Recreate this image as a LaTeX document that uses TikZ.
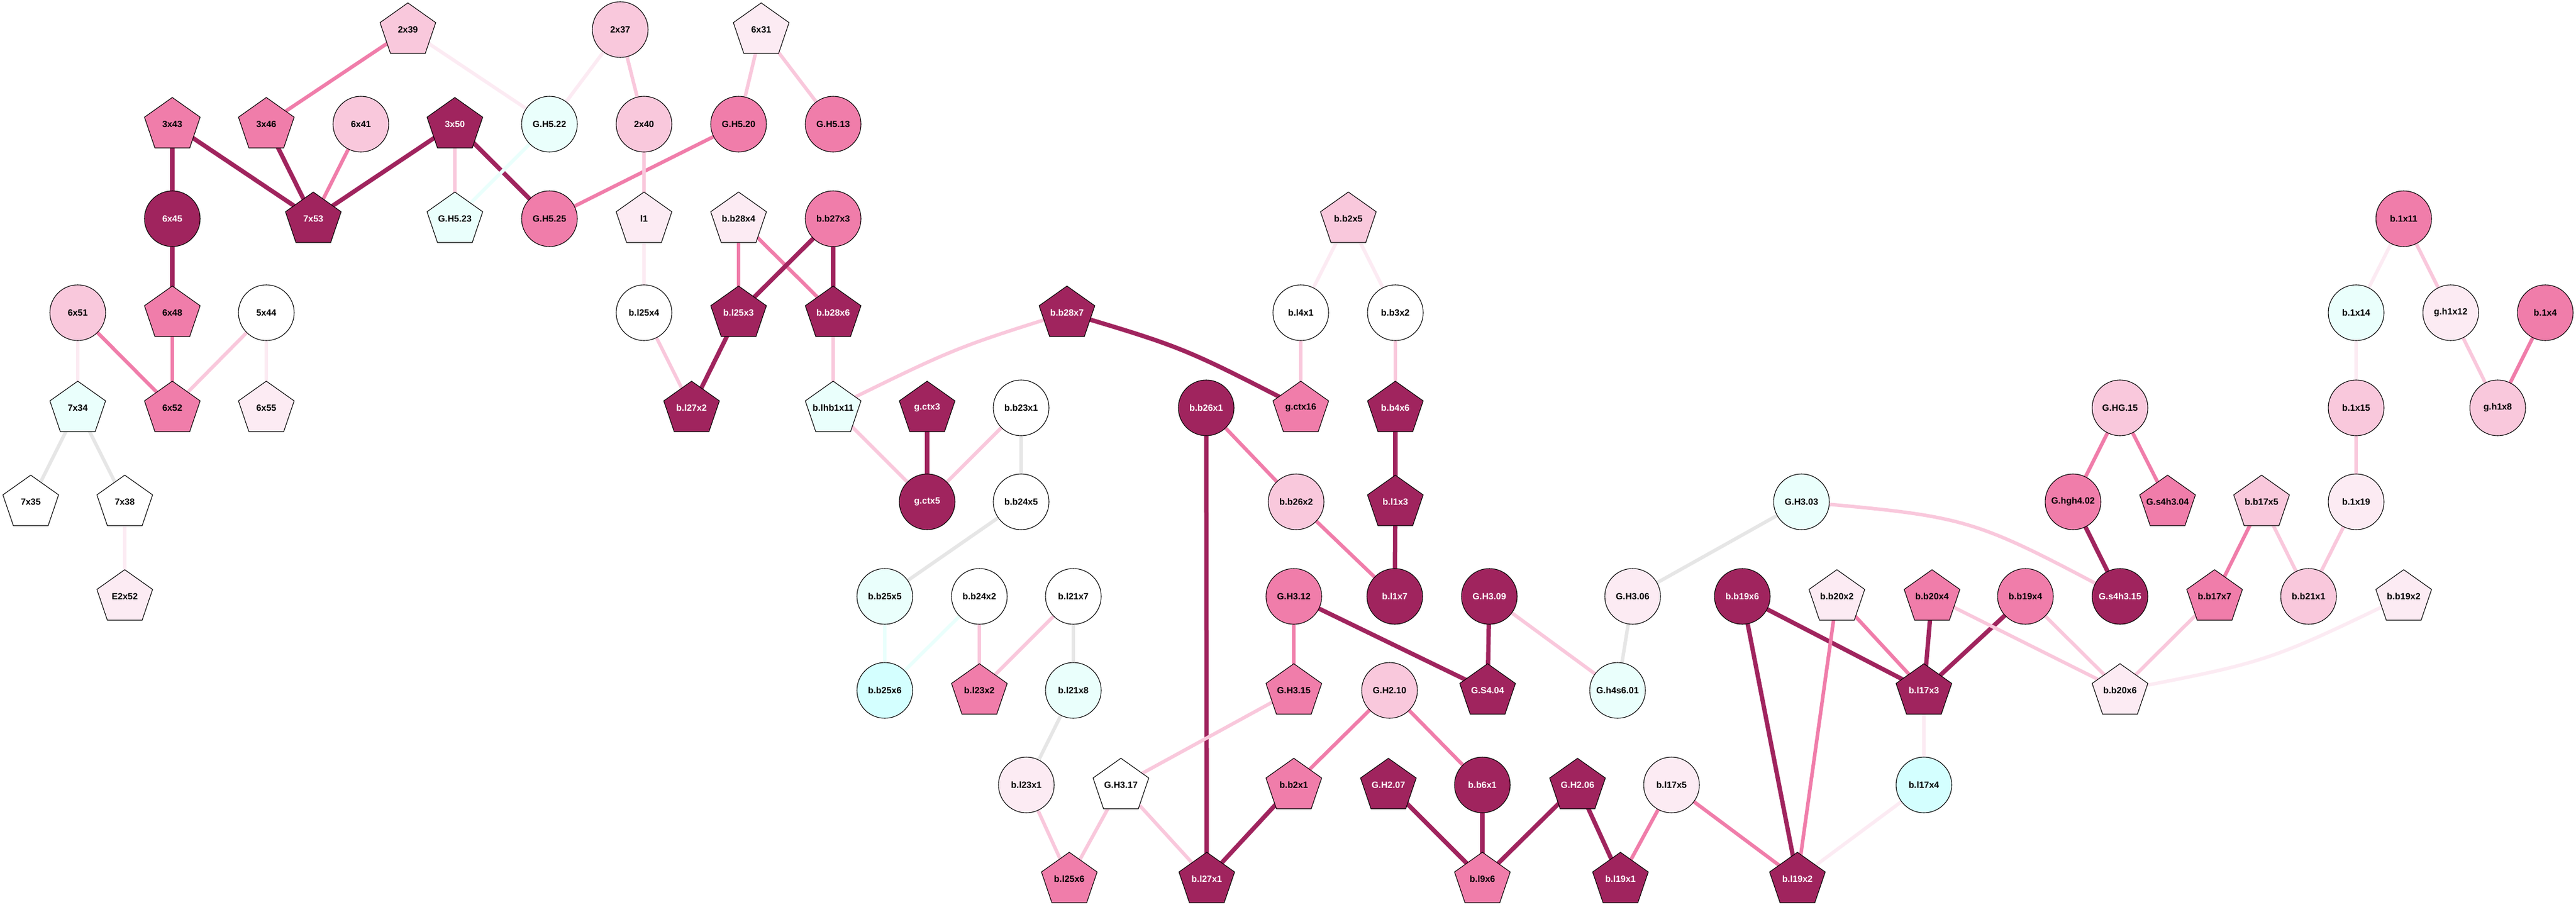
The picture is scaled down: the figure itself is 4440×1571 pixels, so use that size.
\documentclass[tikz,border=0pt]{standalone}
\usepackage{fontspec}
\setmainfont{Liberation Sans}
\pgfdeclarelayer{bg}
\pgfsetlayers{bg,main}
\definecolor{dk}{RGB}{160,36,94}
\definecolor{md}{RGB}{240,125,170}
\definecolor{lt}{RGB}{249,200,220}
\definecolor{vl}{RGB}{252,235,243}
\definecolor{gr}{RGB}{230,230,230}
\definecolor{cl}{RGB}{234,255,252}
\definecolor{cy}{RGB}{212,255,255}
\tikzset{
  base/.style={font=\bfseries\fontsize{15.5}{18}\selectfont, inner sep=0pt, text=black},
  circ/.style={base, shape=circle, draw=black, line width=1.1pt, minimum size=96pt, fill=#1},
  pent/.style={base, shape=circle, minimum size=108pt,
    path picture={\filldraw[fill=#1, draw=black, line width=1.1pt]
      ([shift={(0pt,46pt)}]path picture bounding box.center) --
      ([shift={(48pt,12pt)}]path picture bounding box.center) --
      ([shift={(30pt,-41pt)}]path picture bounding box.center) --
      ([shift={(-30pt,-41pt)}]path picture bounding box.center) --
      ([shift={(-48pt,12pt)}]path picture bounding box.center) -- cycle;}},
  wt/.style={text=white},
  eD/.style={draw=dk, line width=7.5pt},
  eM/.style={draw=md, line width=6.2pt},
  eL/.style={draw=lt, line width=6pt},
  eV/.style={draw=vl, line width=6pt},
  eG/.style={draw=gr, line width=6pt},
  eC/.style={draw=cl, line width=6pt},
}
\begin{document}
\begin{tikzpicture}[x=1pt,y=-1pt]
\useasboundingbox (0,0) rectangle (4440,1571);
% row 1
\node[pent=lt] (2x39) at (703,51) {2x39};
\node[circ=lt] (2x37) at (1069,51) {2x37};
\node[pent=vl] (6x31) at (1312,51) {6x31};
% row 2
\node[pent=md] (3x43) at (297,214) {3x43};
\node[pent=md] (3x46) at (459,214) {3x46};
\node[circ=lt] (6x41) at (622,214) {6x41};
\node[pent=dk,wt] (3x50) at (784,214) {3x50};
\node[circ=cl] (GH522) at (947,214) {G.H5.22};
\node[circ=lt] (2x40) at (1110,214) {2x40};
\node[circ=md] (GH520) at (1273,214) {G.H5.20};
\node[circ=md] (GH513) at (1436,214) {G.H5.13};
% row 3
\node[circ=dk,wt] (6x45) at (297,377) {6x45};
\node[pent=dk,wt] (7x53) at (540,377) {7x53};
\node[pent=cl] (GH523) at (784,377) {G.H5.23};
\node[circ=md] (GH525) at (947,377) {G.H5.25};
\node[pent=vl] (l1) at (1110,377) {l1};
\node[pent=vl] (bb28x4) at (1273,377) {b.b28x4};
\node[circ=md] (bb27x3) at (1436,377) {b.b27x3};
\node[pent=lt] (bb2x5) at (2324,377) {b.b2x5};
\node[circ=md] (b1x11) at (4143,377) {b.1x11};
% row 4
\node[circ=lt] (6x51) at (134,539) {6x51};
\node[pent=md] (6x48) at (297,539) {6x48};
\node[circ=white] (5x44) at (459,539) {5x44};
\node[circ=white] (bl25x4) at (1110,539) {b.l25x4};
\node[pent=dk,wt] (bl25x3) at (1273,539) {b.l25x3};
\node[pent=dk,wt] (bb28x6) at (1436,539) {b.b28x6};
\node[pent=dk,wt] (bb28x7) at (1839,539) {b.b28x7};
\node[circ=white] (bl4x1) at (2242,539) {b.l4x1};
\node[circ=white] (bb3x2) at (2405,539) {b.b3x2};
\node[circ=cl] (b1x14) at (4061,539) {b.1x14};
\node[circ=vl] (gh1x12) at (4224,539) {g.h1x12};
\node[circ=md] (b1x4) at (4387,539) {b.1x4};
% row 5
\node[pent=cl] (7x34) at (134,703) {7x34};
\node[pent=md] (6x52) at (297,703) {6x52};
\node[pent=vl] (6x55) at (459,703) {6x55};
\node[pent=dk,wt] (bl27x2) at (1192,703) {b.l27x2};
\node[pent=cl] (blhb1x11) at (1436,703) {b.lhb1x11};
\node[pent=dk,wt] (gctx3) at (1598,703) {g.ctx3};
\node[circ=white] (bb23x1) at (1760,703) {b.b23x1};
\node[circ=dk,wt] (bb26x1) at (2079,703) {b.b26x1};
\node[pent=md] (gctx16) at (2242,703) {g.ctx16};
\node[pent=dk,wt] (bb4x6) at (2405,703) {b.b4x6};
\node[circ=lt] (GHG15) at (3654,703) {G.HG.15};
\node[circ=lt] (b1x15) at (4061,703) {b.1x15};
\node[circ=lt] (gh1x8) at (4305,703) {g.h1x8};
% row 6
\node[pent=white] (7x35) at (53,865) {7x35};
\node[pent=white] (7x38) at (215,865) {7x38};
\node[circ=dk,wt] (gctx5) at (1598,865) {g.ctx5};
\node[circ=white] (bb24x5) at (1760,865) {b.b24x5};
\node[circ=lt] (bb26x2) at (2234,865) {b.b26x2};
\node[pent=dk,wt] (bl1x3) at (2405,865) {b.l1x3};
\node[circ=cl] (GH303) at (3105,865) {G.H3.03};
\node[circ=md] (Ghgh402) at (3573,865) {G.hgh4.02};
\node[pent=md] (Gs4h304) at (3736,865) {G.s4h3.04};
\node[pent=lt] (bb17x5) at (3898,865) {b.b17x5};
\node[circ=vl] (b1x19) at (4061,865) {b.1x19};
% row 7
\node[pent=vl] (E2x52) at (215,1028) {E2x52};
\node[circ=cl] (bb25x5) at (1525,1028) {b.b25x5};
\node[circ=white] (bb24x2) at (1688,1028) {b.b24x2};
\node[circ=white] (bl21x7) at (1850,1028) {b.l21x7};
\node[circ=md] (GH312) at (2230,1028) {G.H3.12};
\node[circ=dk,wt] (bl1x7) at (2404,1028) {b.l1x7};
\node[circ=dk,wt] (GH309) at (2567,1028) {G.H3.09};
\node[circ=vl] (GH306) at (2814,1028) {G.H3.06};
\node[circ=dk,wt] (bb19x6) at (3003,1028) {b.b19x6};
\node[pent=vl] (bb20x2) at (3166,1028) {b.b20x2};
\node[pent=md] (bb20x4) at (3330,1028) {b.b20x4};
\node[circ=md] (bb19x4) at (3491,1028) {b.b19x4};
\node[circ=dk,wt] (Gs4h315) at (3654,1028) {G.s4h3.15};
\node[pent=md] (bb17x7) at (3817,1028) {b.b17x7};
\node[circ=lt] (bb21x1) at (3979,1028) {b.b21x1};
\node[pent=vl] (bb19x2) at (4143,1028) {b.b19x2};
% row 8
\node[circ=cy] (bb25x6) at (1525,1190) {b.b25x6};
\node[pent=md] (bl23x2) at (1688,1190) {b.l23x2};
\node[circ=cl] (bl21x8) at (1850,1190) {b.l21x8};
\node[pent=md] (GH315) at (2230,1190) {G.H3.15};
\node[circ=lt] (GH210) at (2395,1190) {G.H2.10};
\node[pent=dk,wt] (GS404) at (2564,1190) {G.S4.04};
\node[circ=cl] (Gh4s601) at (2788,1190) {G.h4s6.01};
\node[pent=dk,wt] (bl17x3) at (3316,1190) {b.l17x3};
\node[pent=vl] (bb20x6) at (3654,1190) {b.b20x6};
% row 9
\node[circ=vl] (bl23x1) at (1769,1353) {b.l23x1};
\node[pent=white] (GH317) at (1932,1353) {G.H3.17};
\node[pent=md] (bb2x1) at (2230,1353) {b.b2x1};
\node[pent=dk,wt] (GH207) at (2393,1353) {G.H2.07};
\node[circ=dk,wt] (bb6x1) at (2555,1353) {b.b6x1};
\node[pent=dk,wt] (GH206) at (2719,1353) {G.H2.06};
\node[circ=vl] (bl17x5) at (2881,1353) {b.l17x5};
\node[circ=cy] (bl17x4) at (3316,1353) {b.l17x4};
% row 10
\node[pent=md] (bl25x6) at (1843,1515) {b.l25x6};
\node[pent=dk,wt] (bl27x1) at (2080,1515) {b.l27x1};
\node[pent=md] (bl9x6) at (2555,1515) {b.l9x6};
\node[pent=dk,wt] (bl19x1) at (2793,1515) {b.l19x1};
\node[pent=dk,wt] (bl19x2) at (3098,1515) {b.l19x2};

\begin{pgfonlayer}{bg}
% top left
\draw[eM] (2x39.center) -- (3x46.center);
\draw[eV] (2x39.center) -- (GH522.center);
\draw[eV] (2x37.center) -- (GH522.center);
\draw[eL] (2x37.center) -- (2x40.center);
\draw[eD] (3x43.center) -- (6x45.center);
\draw[eD] (3x43.center) -- (7x53.center);
\draw[eD] (3x46.center) -- (7x53.center);
\draw[eM] (6x41.center) -- (7x53.center);
\draw[eD] (3x50.center) -- (7x53.center);
\draw[eL] (3x50.center) -- (GH523.center);
\draw[eD] (3x50.center) -- (GH525.center);
\draw[eC] (GH522.center) -- (GH523.center);
\draw[eM] (GH520.center) -- (GH525.center);
\draw[eL] (2x40.center) -- (l1.center);
\draw[eD] (6x45.center) -- (6x48.center);
\draw[eV] (6x51.center) -- (7x34.center);
\draw[eM] (6x51.center) -- (6x52.center);
\draw[eM] (6x48.center) -- (6x52.center);
\draw[eL] (5x44.center) -- (6x52.center);
\draw[eV] (5x44.center) -- (6x55.center);
\draw[eG] (7x34.center) -- (7x35.center);
\draw[eG] (7x34.center) -- (7x38.center);
\draw[eV] (7x38.center) -- (E2x52.center);
\draw[eL] (6x31.center) -- (GH520.center);
\draw[eL] (6x31.center) -- (GH513.center);
\draw[eV] (l1.center) -- (bl25x4.center);
\draw[eM] (bb28x4.center) -- (bl25x3.center);
\draw[eM] (bb28x4.center) -- (bb28x6.center);
\draw[eD] (bb27x3.center) -- (bl25x3.center);
\draw[eD] (bb27x3.center) -- (bb28x6.center);
\draw[eL] (bl25x4.center) -- (bl27x2.center);
\draw[eD] (bl25x3.center) -- (bl27x2.center);
\draw[eL] (bb28x6.center) -- (blhb1x11.center);
\draw[eL] (bb28x7.center) .. controls (1645,600) .. (blhb1x11.center);
\draw[eD] (bb28x7.center) .. controls (2040,599) .. (gctx16.center);
\draw[eL] (blhb1x11.center) -- (gctx5.center);
\draw[eD] (gctx3.center) -- (gctx5.center);
\draw[eL] (bb23x1.center) -- (gctx5.center);
\draw[eG] (bb23x1.center) -- (bb24x5.center);
\draw[eD] (bb26x1.center) -- (bl27x1.center);
\draw[eM] (bb26x1.center) -- (bb26x2.center);
\draw[eV] (bb2x5.center) -- (bl4x1.center);
\draw[eV] (bb2x5.center) -- (bb3x2.center);
\draw[eL] (bl4x1.center) -- (gctx16.center);
\draw[eL] (bb3x2.center) -- (bb4x6.center);
\draw[eD] (bb4x6.center) -- (bl1x3.center);
\draw[eV] (b1x11.center) -- (b1x14.center);
\draw[eL] (b1x11.center) -- (gh1x12.center);
\draw[eL] (gh1x12.center) -- (gh1x8.center);
\draw[eM] (b1x4.center) -- (gh1x8.center);
\draw[eV] (b1x14.center) -- (b1x15.center);
\draw[eM] (GHG15.center) -- (Ghgh402.center);
\draw[eM] (GHG15.center) -- (Gs4h304.center);
\draw[eL] (b1x15.center) -- (b1x19.center);
% bottom
\draw[eG] (bb24x5.center) -- (bb25x5.center);
\draw[eC] (bb25x5.center) -- (bb25x6.center);
\draw[eC] (bb24x2.center) -- (bb25x6.center);
\draw[eL] (bb24x2.center) -- (bl23x2.center);
\draw[eL] (bl21x7.center) -- (bl23x2.center);
\draw[eG] (bl21x7.center) -- (bl21x8.center);
\draw[eG] (bl21x8.center) -- (bl23x1.center);
\draw[eL] (bl23x1.center) -- (bl25x6.center);
\draw[eL] (GH317.center) -- (bl25x6.center);
\draw[eL] (GH317.center) -- (bl27x1.center);
\draw[eL] (GH315.center) -- (GH317.center);
\draw[eD] (bb2x1.center) -- (bl27x1.center);
\draw[eM] (bb26x2.center) -- (bl1x7.center);
\draw[eD] (bl1x3.center) -- (bl1x7.center);
\draw[eM] (GH312.center) -- (GH315.center);
\draw[eD] (GH312.center) -- (GS404.center);
\draw[eD] (GH309.center) -- (GS404.center);
\draw[eL] (GH309.center) -- (Gh4s601.center);
\draw[eG] (GH306.center) -- (Gh4s601.center);
\draw[eG] (GH303.center) -- (GH306.center);
\draw[eL] (GH303.center) .. controls (3396,891) .. (Gs4h315.center);
\draw[eM] (GH210.center) -- (bb2x1.center);
\draw[eM] (GH210.center) -- (bb6x1.center);
\draw[eD] (GH207.center) -- (bl9x6.center);
\draw[eD] (bb6x1.center) -- (bl9x6.center);
\draw[eD] (GH206.center) -- (bl9x6.center);
\draw[eD] (GH206.center) -- (bl19x1.center);
\draw[eM] (bl17x5.center) -- (bl19x1.center);
\draw[eM] (bl17x5.center) -- (bl19x2.center);
\draw[eD] (bb19x6.center) -- (bl19x2.center);
\draw[eD] (bb19x6.center) -- (bl17x3.center);
\draw[eM] (bb20x2.center) -- (bl19x2.center);
\draw[eM] (bb20x2.center) -- (bl17x3.center);
\draw[eD] (bb20x4.center) -- (bl17x3.center);
\draw[eD] (bb19x4.center) -- (bl17x3.center);
\draw[eL] (bb20x4.center) -- (bb20x6.center);
\draw[eL] (bb19x4.center) -- (bb20x6.center);
\draw[eL] (bb17x7.center) -- (bb20x6.center);
\draw[eV] (bb19x2.center) .. controls (3909,1141) .. (bb20x6.center);
\draw[eV] (bl17x3.center) -- (bl17x4.center);
\draw[eV] (bl17x4.center) -- (bl19x2.center);
\draw[eD] (Ghgh402.center) -- (Gs4h315.center);
\draw[eM] (bb17x5.center) -- (bb17x7.center);
\draw[eL] (bb17x5.center) -- (bb21x1.center);
\draw[eL] (b1x19.center) -- (bb21x1.center);
\end{pgfonlayer}
\end{tikzpicture}
\end{document}
